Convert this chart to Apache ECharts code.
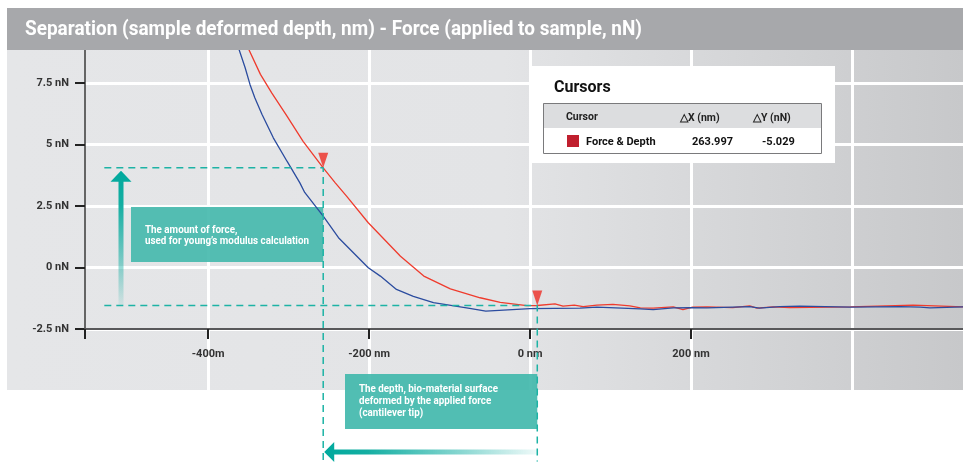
<!DOCTYPE html>
<html>
<head>
<meta charset="utf-8">
<script src="https://cdn.jsdelivr.net/npm/echarts@6/dist/echarts.min.js"></script>
<style>
  html, body { margin: 0; padding: 0; background: #fff; }
  #chart { width: 963px; height: 464px; }
</style>
</head>
<body>
<div id="chart"></div>
<script>
// title + axis ticks
const titleText = "Separation (sample deformed depth, nm) - Force (applied to sample, nN)";
const xTickValues = [-400, -200, 0, 200];
const xTickLabels = ["-400m", "-200 nm", "0 nm", "200 nm"];
const xGridValues = [-400, -200, 0, 200, 400];
const yTickValues = [-2.5, 0, 2.5, 5, 7.5];
const yTickLabels = ["-2.5 nN", "0 nN", "2.5 nN", "5 nN", "7.5 nN"];

// red curve (depth nm / force nN)
const redDepth = [-358, -350, -335, -321, -302, -282, -257, -242, -228, -201, -161, -132, -99, -62, -37, -4, 9,
  31, 41, 55, 66, 83, 103, 124, 137, 153, 178, 190, 202, 220, 252, 273, 282, 302, 323, 398, 476, 538];
const redForce = [9.3, 8.9, 7.85, 7.1, 6.15, 5.13, 4.05, 3.44, 2.9, 1.82, 0.46, -0.35, -0.87, -1.23, -1.42, -1.55, -1.545,
  -1.48, -1.57, -1.53, -1.59, -1.53, -1.5, -1.56, -1.64, -1.65, -1.6, -1.71, -1.61, -1.6, -1.63, -1.56, -1.65, -1.6, -1.63, -1.6, -1.53, -1.6];

// blue curve
const blueDepth = [-370, -362, -354, -348, -342, -333, -319, -302, -286, -280, -257, -238, -201, -186, -166, -145, -120, -75, -55, 0,
  62, 83, 137, 153, 178, 199, 220, 252, 273, 285, 310, 335, 398, 460, 485, 497, 538];
const blueForce = [9.3, 8.9, 8.12, 7.44, 6.9, 6.22, 5.27, 4.32, 3.44, 3.05, 2.09, 1.21, -0.01, -0.35, -0.89, -1.17, -1.43, -1.66, -1.77, -1.67,
  -1.65, -1.61, -1.68, -1.71, -1.64, -1.63, -1.64, -1.61, -1.59, -1.65, -1.59, -1.57, -1.61, -1.59, -1.61, -1.64, -1.6];

// cursors
const cursorDepth = [-257, 9];
const cursorForce = [4.05, -1.545];
const tableHeader = ["Cursor", "△X (nm)", "△Y (nN)"];
const tableRow = ["Force & Depth", "263.997", "-5.029"];

const note1 = ["The amount of force,", "used for young’s modulus calculation"];
const note2 = ["The depth, bio-material surface", "deformed by the applied force", "(cantilever tip)"];

const X_MIN = -553, X_MAX = 538;
const Y_MIN = -2.5, Y_MAX = 8.84, Y_EXT_MIN = -7.99;
const GUIDE_LEFT = -529;

const FONT = "Roboto, 'Noto Sans', sans-serif";
const TEAL = "#1db3a5";
const zip = (xs, ys) => xs.map((x, i) => [x, ys[i]]);

const chart = echarts.init(document.getElementById("chart"));

const measure = (text, font) => {
  const ctx = document.createElement("canvas").getContext("2d");
  ctx.font = font;
  return ctx.measureText(text).width;
};

const option = {
  animation: false,
  grid: [
    { left: 85, right: 0, top: 50, height: 279 },
    { left: 85, right: 0, top: 50, bottom: 74 },
    { left: 85, right: 0, top: 50, bottom: 0 },
  ],
  xAxis: [
    {
      type: "value", gridIndex: 0, min: X_MIN, max: X_MAX, z: 1,
      axisLine: { show: true, onZero: false, lineStyle: { color: "#58585a", width: 2 } },
      axisTick: { show: true, length: 10, customValues: [X_MIN].concat(xTickValues), lineStyle: { color: "#222", width: 2 } },
      axisLabel: {
        customValues: xTickValues, margin: 20, fontFamily: FONT, fontWeight: "bold", fontSize: 11, color: "#333",
        formatter: (v) => xTickLabels[xTickValues.indexOf(v)],
      },
      splitLine: { show: false },
    },
    {
      type: "value", gridIndex: 1, min: X_MIN, max: X_MAX,
      axisLine: { show: false }, axisLabel: { show: false },
      axisTick: { show: false, customValues: xGridValues },
      splitLine: { show: true, lineStyle: { color: "#fff", width: 3 } },
    },
    { type: "value", gridIndex: 2, min: X_MIN, max: X_MAX, show: false },
  ],
  yAxis: [
    {
      type: "value", gridIndex: 0, min: Y_MIN, max: Y_MAX,
      axisLine: { show: true, onZero: false, lineStyle: { color: "#3a3a3a", width: 1.5 } },
      axisTick: { show: true, length: 10, customValues: yTickValues, lineStyle: { color: "#222", width: 2 } },
      axisLabel: {
        customValues: yTickValues, margin: 16, fontFamily: FONT, fontWeight: "bold", fontSize: 11, color: "#333",
        formatter: (v) => yTickLabels[yTickValues.indexOf(v)],
      },
      splitLine: { show: true, lineStyle: { color: "#fff", width: 3 } },
    },
    { type: "value", gridIndex: 1, min: Y_MIN, max: Y_MAX, show: false },
    { type: "value", gridIndex: 2, min: Y_EXT_MIN, max: Y_MAX, show: false },
  ],
  series: [
    {
      name: "approach", type: "line", xAxisIndex: 0, yAxisIndex: 0, data: zip(redDepth, redForce),
      showSymbol: false, lineStyle: { color: "#ef3b2d", width: 1.3 }, z: 2, silent: true,
    },
    {
      name: "retract", type: "line", xAxisIndex: 0, yAxisIndex: 0, data: zip(blueDepth, blueForce),
      showSymbol: false, lineStyle: { color: "#2b4c9f", width: 1.3 }, z: 2, silent: true,
    },
    {
      name: "guide1", type: "line", xAxisIndex: 2, yAxisIndex: 2, clip: false, silent: true, showSymbol: false, z: 3,
      data: [[GUIDE_LEFT, cursorForce[0]], [cursorDepth[0], cursorForce[0]], [cursorDepth[0], Y_EXT_MIN]],
      lineStyle: { color: TEAL, width: 1.5, type: [7, 5] },
    },
    {
      name: "guide2", type: "line", xAxisIndex: 2, yAxisIndex: 2, clip: false, silent: true, showSymbol: false, z: 3,
      data: [[GUIDE_LEFT, cursorForce[1]], [cursorDepth[1], cursorForce[1]], [cursorDepth[1], Y_EXT_MIN + 0.1]],
      lineStyle: { color: TEAL, width: 1.5, type: [7, 5] },
    },
    {
      name: "cursors", type: "scatter", xAxisIndex: 0, yAxisIndex: 0, clip: false, silent: true, z: 4,
      data: zip(cursorDepth, cursorForce),
      symbol: "path://M0,0 L10,0 L5,15 Z", symbolSize: [10, 15], symbolOffset: [0, "-50%"],
      itemStyle: { color: "#ee2d24" },
    },
  ],
};
chart.setOption(option);

// annotations placed from the cursor positions
const p0 = chart.convertToPixel({ gridIndex: 2 }, [cursorDepth[0], cursorForce[0]]);
const p1 = chart.convertToPixel({ gridIndex: 2 }, [cursorDepth[1], cursorForce[1]]);

const noteFont = "bold 10px " + FONT;
const s1 = 164 / measure(note1[1], noteFont);
const s2 = 139 / measure(note2[0], noteFont);
const titleFont = "bold 20px " + FONT;
const sTitle = 617 / measure(titleText, titleFont);

const textLines = (lines, x, y, step, scale) => lines.map((t, i) => ({
  type: "text", x: x, y: y + i * step, scaleX: scale, z: 2,
  style: { text: t, font: noteFont, fill: "#fff", verticalAlign: "middle" },
}));

const ax = 121, ay = 452;
const graphic = [
  // background panel
  {
    type: "rect", z: -1, shape: { x: 7, y: 50, width: 956, height: 340 },
    style: {
      fill: new echarts.graphic.LinearGradient(0, 0, 1, 0, [
        { offset: 0, color: "#e5e6e8" }, { offset: 0.52, color: "#e3e4e6" }, { offset: 1, color: "#c7c8ca" },
      ]),
    },
  },
  { type: "rect", z: 5, shape: { x: 7, y: 8, width: 956, height: 42 }, style: { fill: "#a7a8ab" } },
  {
    type: "text", z: 6, x: 25, y: 30, scaleX: sTitle,
    style: { text: titleText, font: titleFont, fill: "#fff", verticalAlign: "middle" },
  },
  // note boxes
  { type: "rect", z: 1, shape: { x: 131, y: 207, width: p0[0] - 131, height: 55 }, style: { fill: "rgba(66,184,172,0.9)" } },
  { type: "rect", z: 1, shape: { x: 345, y: 374, width: p1[0] - 345, height: 55 }, style: { fill: "rgba(66,184,172,0.92)" } },
  ...textLines(note1, 145, 230, 11.5, s1),
  ...textLines(note2, 359, 389, 12, s2),
  // vertical arrow
  {
    type: "polygon", z: 1,
    shape: { points: [[ax, p0[1] + 3], [ax - 10.5, p0[1] + 14], [ax - 2.5, p0[1] + 14], [ax - 2.5, p1[1]], [ax + 2.5, p1[1]], [ax + 2.5, p0[1] + 14], [ax + 10.5, p0[1] + 14]] },
    style: {
      fill: new echarts.graphic.LinearGradient(0, 0, 0, 1, [
        { offset: 0, color: "#00a99d" }, { offset: 0.25, color: "#14aea2" }, { offset: 1, color: "rgba(0,169,157,0.08)" },
      ]),
    },
  },
  // horizontal arrow
  {
    type: "polygon", z: 1,
    shape: { points: [[p0[0] + 1, ay], [p0[0] + 11, ay - 10], [p0[0] + 11, ay - 2.5], [p1[0], ay - 2.5], [p1[0], ay + 2.5], [p0[0] + 11, ay + 2.5], [p0[0] + 11, ay + 10]] },
    style: {
      fill: new echarts.graphic.LinearGradient(0, 0, 1, 0, [
        { offset: 0, color: "#00a99d" }, { offset: 0.2, color: "#14aea2" }, { offset: 1, color: "rgba(0,169,157,0.06)" },
      ]),
    },
  },
  // cursor panel
  { type: "rect", z: 5, shape: { x: 530, y: 66, width: 305, height: 97 }, style: { fill: "#fff" } },
  { type: "text", z: 6, x: 554, y: 88, style: { text: "Cursors", font: "bold 16px " + FONT, fill: "#111", verticalAlign: "middle" } },
  { type: "rect", z: 6, shape: { x: 543, y: 103, width: 278, height: 25 }, style: { fill: "#dcdddf" } },
  { type: "rect", z: 7, shape: { x: 543.5, y: 103.5, width: 278, height: 50 }, style: { fill: null, stroke: "#7a7a7c", lineWidth: 1 } },
  { type: "rect", z: 7, shape: { x: 567, y: 135, width: 12, height: 12 }, style: { fill: "#c01f2e" } },
  { type: "text", z: 7, x: 566, y: 117, style: { text: tableHeader[0], font: "bold 10.5px " + FONT, fill: "#222", verticalAlign: "middle" } },
  { type: "text", z: 7, x: 680, y: 118, style: { text: tableHeader[1], font: "bold 10.5px " + FONT, fill: "#222", verticalAlign: "middle" } },
  { type: "text", z: 7, x: 753, y: 118, style: { text: tableHeader[2], font: "bold 10.5px " + FONT, fill: "#222", verticalAlign: "middle" } },
  { type: "text", z: 7, x: 586, y: 142, style: { text: tableRow[0], font: "bold 11px " + FONT, fill: "#111", verticalAlign: "middle" } },
  { type: "text", z: 7, x: 692, y: 142, style: { text: tableRow[1], font: "bold 11px " + FONT, fill: "#111", verticalAlign: "middle" } },
  { type: "text", z: 7, x: 762, y: 142, style: { text: tableRow[2], font: "bold 11px " + FONT, fill: "#111", verticalAlign: "middle" } },
];
chart.setOption({ graphic: graphic });
</script>
</body>
</html>
